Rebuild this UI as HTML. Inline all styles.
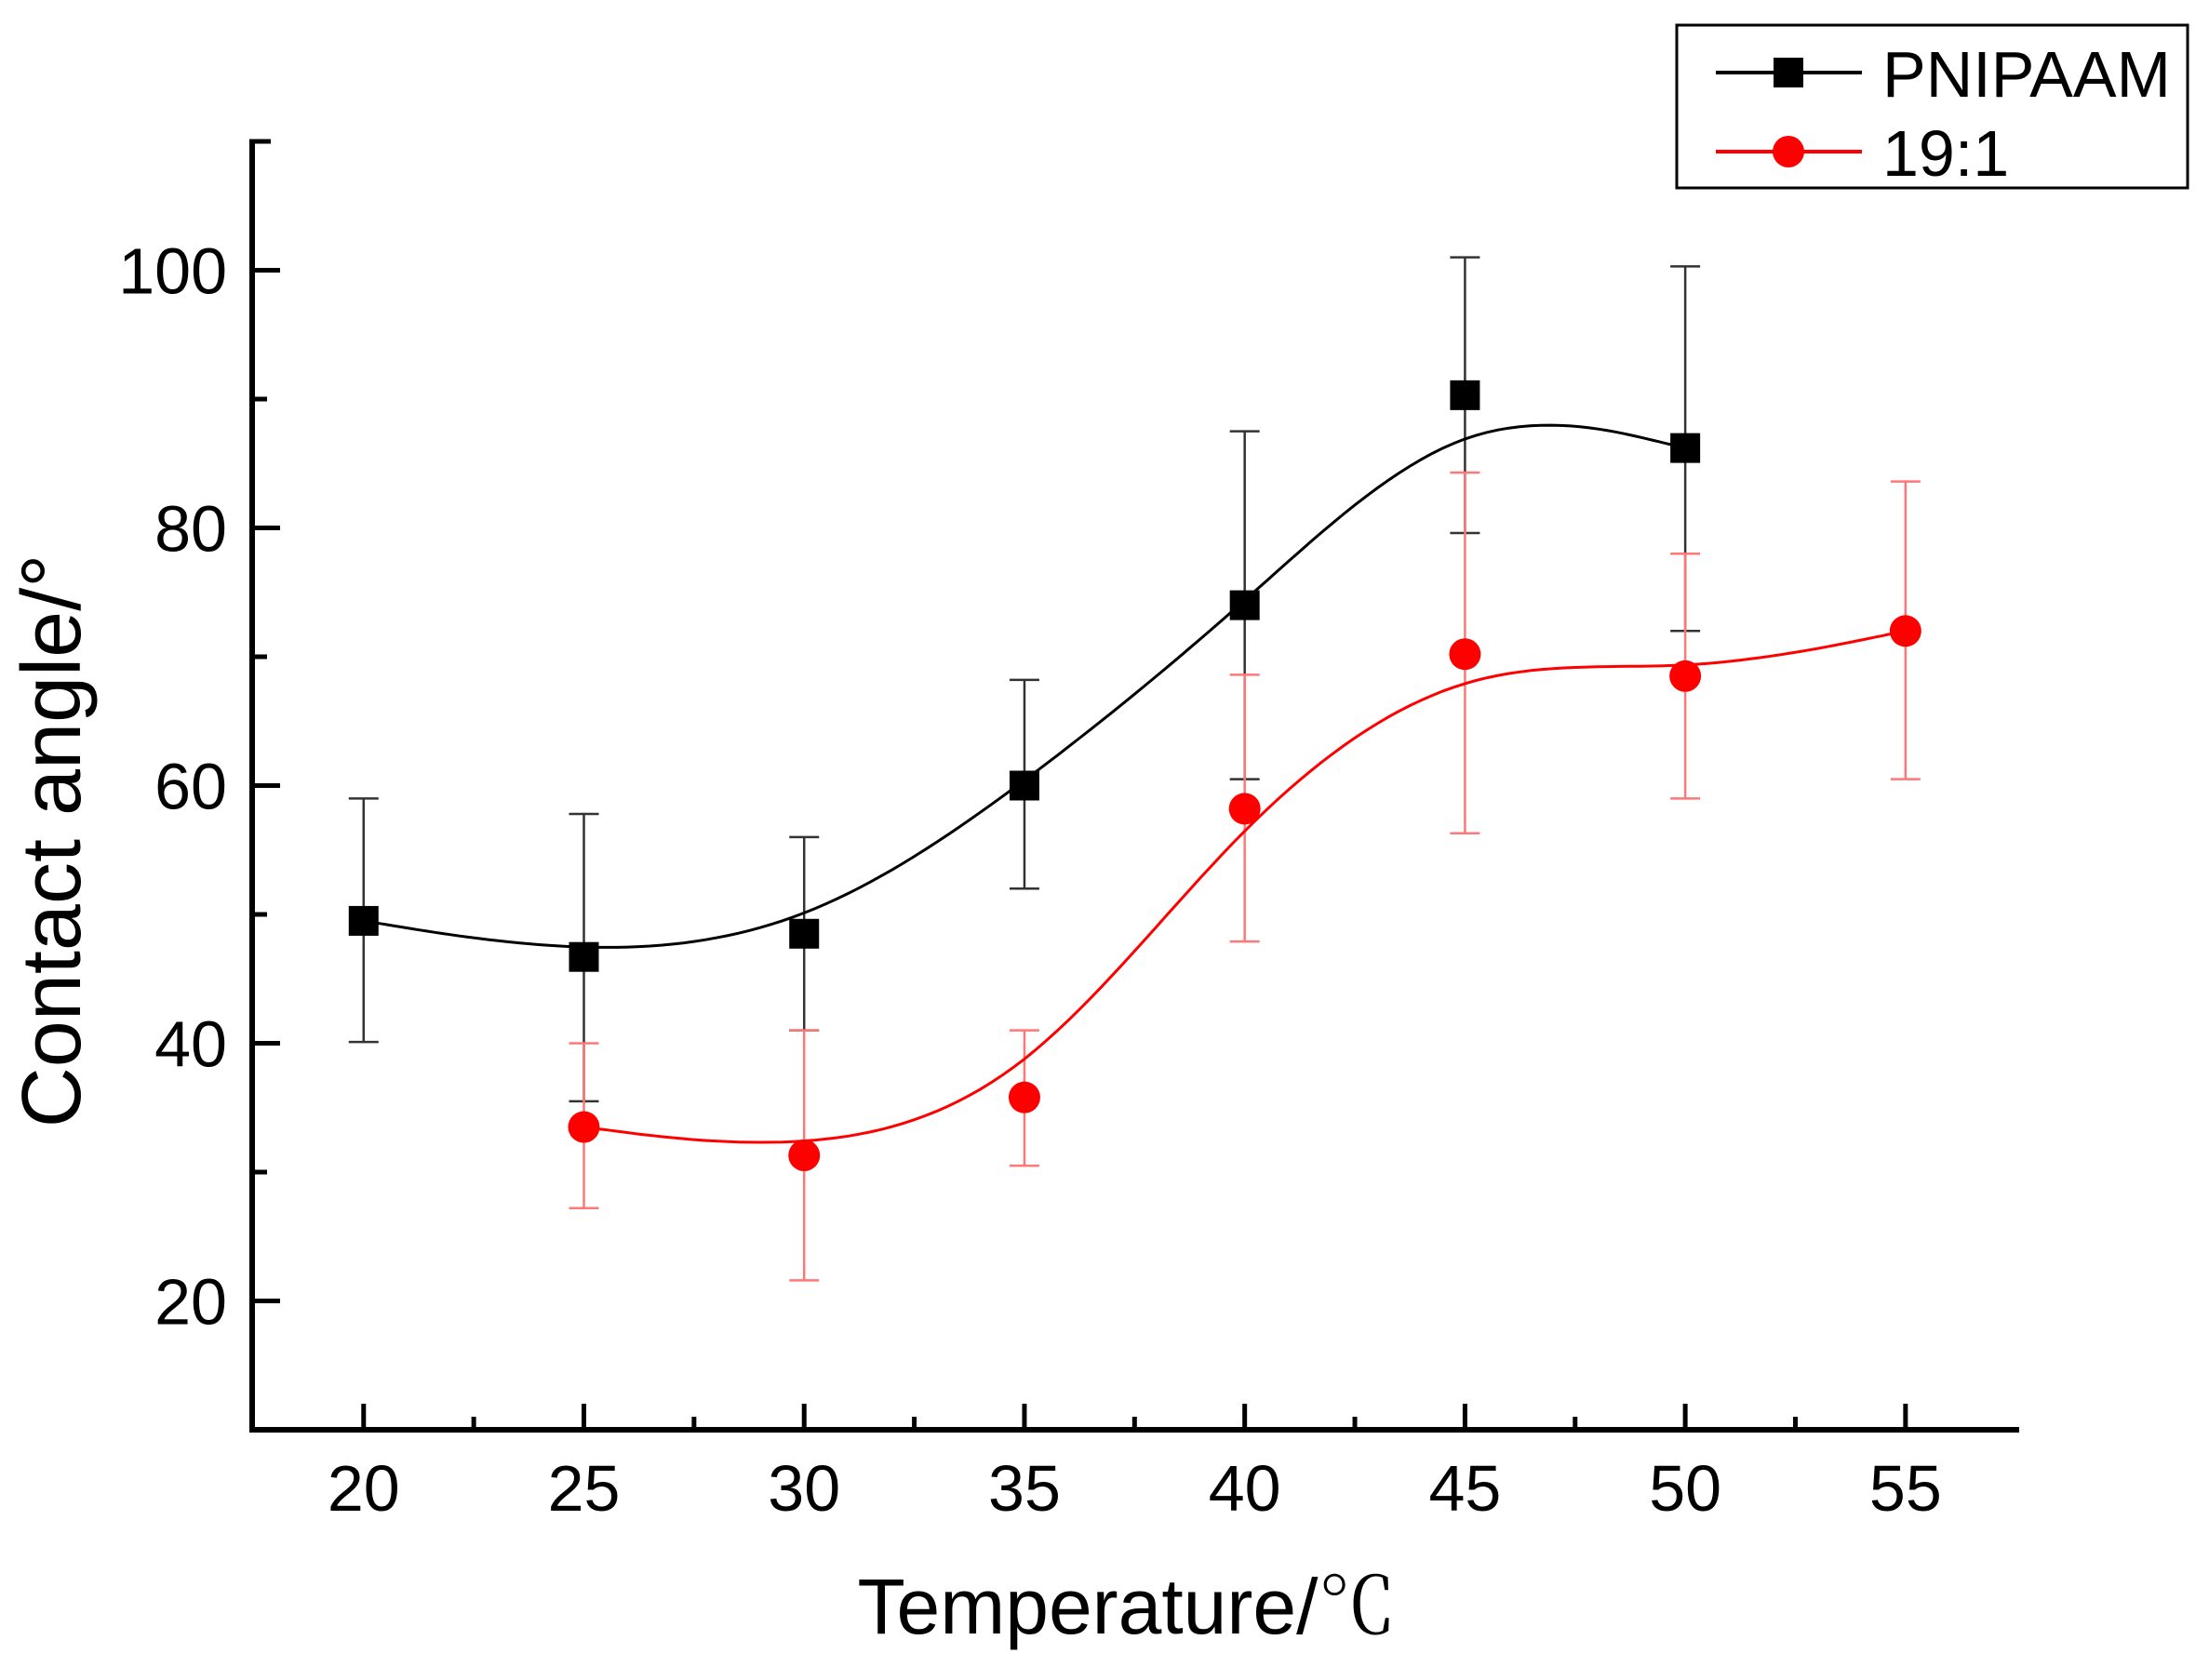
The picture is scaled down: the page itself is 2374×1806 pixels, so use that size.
<!DOCTYPE html>
<html><head><meta charset="utf-8"><style>
html,body{margin:0;padding:0;background:#fff;}
svg{display:block;font-family:"Liberation Sans",Arial,sans-serif;}
</style></head><body>
<svg id="chart" width="2374" height="1806" viewBox="0 0 2374 1806" xmlns="http://www.w3.org/2000/svg">
<rect x="0" y="0" width="2374" height="1806" fill="#fff"/>
<g id="axes"></g>
<g id="series"></g>
<text x="1211" y="1756" font-size="84" text-anchor="middle" fill="#000">Temperature/<tspan font-family="'Noto Serif CJK SC',serif">℃</tspan></text>
<text transform="translate(86,904) rotate(-90)" font-size="90" text-anchor="middle" fill="#000">Contact angle/°</text>
<g>
<rect x="1802" y="27" width="549" height="175" fill="#fff" stroke="#000" stroke-width="3"/>
<g>
<line x1="1844" y1="78" x2="2001" y2="78" stroke="#000" stroke-width="4"/>
<rect x="1906" y="62" width="32" height="32" fill="#000"/>
<text x="2023" y="104" font-size="70" fill="#000">PNIPAAM</text>
</g>
<g>
<line x1="1844" y1="163" x2="2001" y2="163" stroke="#f00" stroke-width="4"/>
<circle cx="1922" cy="163" r="17" fill="#f00"/>
<text x="2023" y="189" font-size="70" fill="#000">19:1</text>
</g>
</g>
</svg>
<script>
const xTicks = [20,25,30,35,40,45,50,55];
const yTicks = [20,40,60,80,100];
const tempsA = [20,25,30,35,40,45,50];
const pnipaam = [49.5,46.7,48.5,60,74,90.3,86.2];
const pnipaamLo = [40.1,35.5,41,52,60.5,79.6,72];
const pnipaamHi = [59,57.8,56,68.2,87.5,101,100.3];
const tempsB = [25,30,35,40,45,50,55];
const ratio191 = [33.5,31.3,35.8,58.2,70.2,68.5,72];
const ratioLo = [27.2,21.6,30.5,47.9,56.3,59,60.5];
const ratioHi = [40,41,41,68.6,84.3,78,83.6];

const NS="http://www.w3.org/2000/svg";
const X0=271, X1=2170, Y0=1537, Ytop=152;
const xMin=17.47, xMax=57.58, yMin=10, yMax=110;
function sx(v){return X0+(v-xMin)/(xMax-xMin)*(X1-X0);}
function sy(v){return Y0-(v-yMin)/(yMax-yMin)*(Y0-Ytop);}
function mk(tag,attrs,parent){const e=document.createElementNS(NS,tag);for(const k in attrs)e.setAttribute(k,attrs[k]);parent.appendChild(e);return e;}
const axes=document.getElementById('axes');
const series=document.getElementById('series');

let el=mk('line',{x1:X0,y1:Y0,x2:X1,y2:Y0,stroke:'#000','stroke-width':6},axes);


el=mk('line',{x1:X0,y1:Y0+3,x2:X0,y2:Ytop,stroke:'#000','stroke-width':6},axes);


mk('line',{x1:X0-3,y1:Ytop,x2:X0+20,y2:Ytop,stroke:'#000','stroke-width':5},axes);

for(let i=0;i<xTicks.length;i++){
  const v=xTicks[i];
  mk('line',{x1:sx(v),y1:Y0,x2:sx(v),y2:Y0-28,stroke:'#000','stroke-width':5},axes);
  if(i<xTicks.length-1) mk('line',{x1:sx(v+2.5),y1:Y0,x2:sx(v+2.5),y2:Y0-14,stroke:'#000','stroke-width':5},axes);
  const t=mk('text',{x:sx(v),y:1624,'font-size':70,'text-anchor':'middle',fill:'#000'},axes);
  t.textContent=v;
  
  
}
for(let v=10; v<=110; v+=10){
  const major=yTicks.includes(v);
  mk('line',{x1:X0,y1:sy(v),x2:X0+(major?30:16),y2:sy(v),stroke:'#000','stroke-width':5},axes);
}
for(const v of yTicks){
  const t=mk('text',{x:244,y:sy(v)+25,'font-size':70,'text-anchor':'end',fill:'#000'},axes);
  t.textContent=v;
  
  
}

function bspline(xs,ys){
  const px=[xs[0],xs[0],...xs,xs[xs.length-1],xs[xs.length-1]];
  const py=[ys[0],ys[0],...ys,ys[ys.length-1],ys[ys.length-1]];
  let d='';
  for(let i=0;i<px.length-3;i++){
    for(let s=0;s<=20;s++){
      const t=s/20,b0=(1-t)**3/6,b1=(3*t**3-6*t*t+4)/6,b2=(-3*t**3+3*t*t+3*t+1)/6,b3=t**3/6;
      const x=b0*px[i]+b1*px[i+1]+b2*px[i+2]+b3*px[i+3];
      const y=b0*py[i]+b1*py[i+1]+b2*py[i+2]+b3*py[i+3];
      d+=(d?'L':'M')+sx(x).toFixed(1)+','+sy(y).toFixed(1);
    }
  }
  return d;
}
function drawSeries(name,xs,ys,lo,hi,color,ebColor,square){
  const g=mk('g',{},series);
  
  
  for(let i=0;i<xs.length;i++){
    const x=sx(xs[i]);
    const eb=mk('path',{d:`M${x},${sy(lo[i])}L${x},${sy(hi[i])}M${x-16},${sy(lo[i])}L${x+16},${sy(lo[i])}M${x-16},${sy(hi[i])}L${x+16},${sy(hi[i])}`,stroke:ebColor,'stroke-width':2.5,fill:'none'},g);
    
    
  }
  const c=mk('path',{d:bspline(xs,ys),stroke:color,'stroke-width':3,fill:'none'},g);
  
  
  for(let i=0;i<xs.length;i++){
    let m;
    if(square) m=mk('rect',{x:sx(xs[i])-16,y:sy(ys[i])-16,width:32,height:32,fill:color},g);
    else m=mk('circle',{cx:sx(xs[i]),cy:sy(ys[i]),r:17,fill:color},g);
    
    
  }
}
drawSeries('pnipaam',tempsA,pnipaam,pnipaamLo,pnipaamHi,'#000','#333',true);
drawSeries('ratio-19-1',tempsB,ratio191,ratioLo,ratioHi,'#f00','#f77',false);
</script>
</body></html>
